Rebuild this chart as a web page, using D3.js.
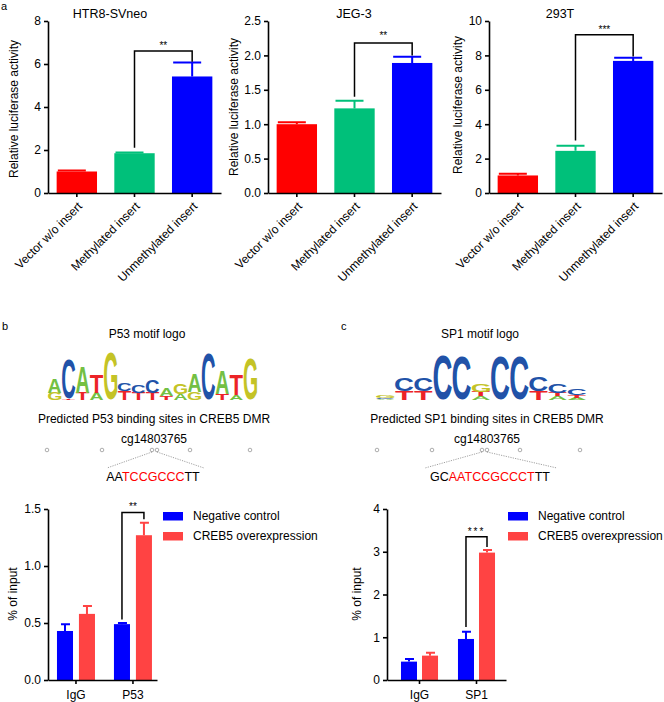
<!DOCTYPE html>
<html>
<head>
<meta charset="utf-8">
<script src="https://cdn.jsdelivr.net/npm/d3@7"></script>
<style>
  body { margin: 0; background: #fff; }
  svg { display: block; font-family: "Liberation Sans", Arial, sans-serif; }
</style>
</head>
<body>
<svg width="664" height="702"></svg>
<script>
// ---------------------------------------------------------------------------
// data
// ---------------------------------------------------------------------------
const lucCategories = ["Vector w/o insert", "Methylated insert", "Unmethylated insert"];
const lucColors = ["#ff0000", "#00c07a", "#0000ff"];

const htr8Mean = [1.0, 1.85, 5.42];
const htr8Sem = [0.05, 0.03, 0.65];
const jeg3Mean = [1.0, 1.23, 1.89];
const jeg3Sem = [0.03, 0.11, 0.09];
const t293Mean = [1.02, 2.45, 7.68];
const t293Sem = [0.1, 0.3, 0.18];

const chipSeries = ["Negative control", "CREB5 overexpression"];
const chipColors = ["#0000ff", "#ff4343"];
const p53Groups = ["IgG", "P53"];
const p53NegMean = [0.43, 0.49];
const p53NegSem = [0.06, 0.01];
const p53CrebMean = [0.58, 1.27];
const p53CrebSem = [0.07, 0.11];
const sp1Groups = ["IgG", "SP1"];
const sp1NegMean = [0.43, 0.96];
const sp1NegSem = [0.06, 0.17];
const sp1CrebMean = [0.57, 2.98];
const sp1CrebSem = [0.07, 0.06];

// motif logos, letters per position from bottom to top, height in bits
const p53Logo = [
  [["G", .3], ["A", .6]],
  [["T", .05], ["C", 1.65]],
  [["T", .3], ["A", 1.05]],
  [["A", .3], ["T", .75]],
  [["G", 1.95]],
  [["T", .35], ["C", .35]],
  [["T", .3], ["C", .35]],
  [["T", .3], ["C", .55]],
  [["T", .15], ["A", .3]],
  [["A", .25], ["G", .45]],
  [["G", .35], ["A", .75]],
  [["C", 1.9]],
  [["T", .25], ["A", .95]],
  [["A", .2], ["T", .85]],
  [["G", 1.7]]
];
const sp1Logo = [
  [["A", .05], ["C", .05], ["G", .08]],
  [["T", .35], ["C", .55]],
  [["T", .35], ["C", .55]],
  [["C", 1.85]],
  [["C", 1.8]],
  [["A", .15], ["T", .2], ["G", .3]],
  [["C", 1.8]],
  [["C", 1.8]],
  [["T", .35], ["C", .6]],
  [["A", .15], ["T", .15], ["C", .4]],
  [["A", .1], ["T", .1], ["C", .25]]
];
const logoColors = { A: "#74c043", C: "#2152a8", G: "#c4c326", T: "#ec2327" };

const cpgSite = "cg14803765";
const p53Seq = [["AA", "#000"], ["TCCGCCC", "#ff0000"], ["TT", "#000"]];
const sp1Seq = [["GC", "#000"], ["AATCCGCCCT", "#ff0000"], ["TT", "#000"]];

// ---------------------------------------------------------------------------
const svg = d3.select("svg");
const font = "'Liberation Sans', Arial, sans-serif";

function styleAxis(sel) {
  sel.attr("font-size", 12).attr("font-family", font);
  sel.select(".domain").attr("stroke-width", 1.6);
  sel.selectAll(".tick line").attr("stroke-width", 1.6);
  sel.selectAll(".tick text").attr("fill", "#000");
}

function bracket(g, x1, x2, yl, yt, yr, stars, sy, spacing) {
  g.append("path")
    .attr("d", `M${x1},${yl}V${yt}H${x2}V${yr}`)
    .attr("fill", "none").attr("stroke", "#000").attr("stroke-width", 1.5);
  g.append("text")
    .attr("x", (x1 + x2) / 2).attr("y", sy)
    .attr("text-anchor", "middle").attr("font-size", 10)
    .attr("letter-spacing", spacing || 0)
    .text(stars);
}

// ===========================================================================
// PANEL a : luciferase
// ===========================================================================
const panelsA = [
  { title: "HTR8-SVneo", titleX: 110, mean: htr8Mean, sem: htr8Sem, max: 8, ticks: [0, 2, 4, 6, 8],
    fmt: d3.format("d"), x0: 48, label: [18, 109], br: [2.1, 6.6, 6.1], stars: "**", starsY: 49 },
  { title: "JEG-3", titleX: 354, mean: jeg3Mean, sem: jeg3Sem, max: 2.5, ticks: [0, 0.5, 1, 1.5, 2, 2.5],
    fmt: d3.format(".1f"), x0: 268, label: [238, 107], br: [1.4, 2.18, 2.0], stars: "**", starsY: 39 },
  { title: "293T", titleX: 560, mean: t293Mean, sem: t293Sem, max: 10, ticks: [0, 2, 4, 6, 8, 10],
    fmt: d3.format("d"), x0: 489, label: [462, 105], br: [3.05, 9.2, 7.93], stars: "***", starsY: 33 }
];

panelsA.forEach((p) => {
  const g = svg.append("g");
  const x = d3.scaleBand().domain(lucCategories).range([p.x0, p.x0 + 173])
    .paddingInner(0.3).paddingOuter(0.15);
  const y = d3.scaleLinear().domain([0, p.max]).range([193, 21]);

  // bars
  g.selectAll(".bar").data(p.mean).enter().append("rect")
    .attr("x", (d, i) => x(lucCategories[i]))
    .attr("y", (d) => y(d))
    .attr("width", x.bandwidth())
    .attr("height", (d) => y(0) - y(d))
    .attr("fill", (d, i) => lucColors[i]);

  // error bars
  p.mean.forEach((d, i) => {
    const cx = x(lucCategories[i]) + x.bandwidth() / 2;
    const top = y(d + p.sem[i]);
    g.append("path")
      .attr("d", `M${cx},${y(d)}V${top}M${cx - 19},${top}H${cx + 9}`)
      .attr("stroke", lucColors[i]).attr("stroke-width", 2).attr("fill", "none");
  });

  // axes
  g.append("g").attr("transform", `translate(${p.x0},0)`)
    .call(d3.axisLeft(y).tickValues(p.ticks).tickFormat(p.fmt).tickSize(4).tickSizeOuter(0))
    .call(styleAxis);

  const xa = g.append("g").attr("transform", "translate(0,193)")
    .call(d3.axisBottom(x).tickSize(4).tickSizeOuter(0))
    .call(styleAxis);
  xa.selectAll(".tick text")
    .attr("y", 0).attr("dy", 0)
    .attr("transform", "translate(6,14) rotate(-45)")
    .attr("text-anchor", "end");

  // title and y label
  g.append("text").attr("x", p.titleX).attr("y", 18).attr("text-anchor", "middle")
    .attr("font-size", 12.5).text(p.title);
  g.append("text").attr("transform", `translate(${p.label[0]},${p.label[1]}) rotate(-90)`)
    .attr("text-anchor", "middle").attr("font-size", 12).text("Relative luciferase activity");

  // significance
  const xl = x(lucCategories[1]) + x.bandwidth() / 2;
  const xr = x(lucCategories[2]) + x.bandwidth() / 2;
  bracket(g, xl, xr, y(p.br[0]), y(p.br[1]), y(p.br[2]), p.stars, p.starsY);
});

svg.append("text").attr("x", 1).attr("y", 10).attr("font-size", 11).text("a");
svg.append("text").attr("x", 2).attr("y", 330).attr("font-size", 11).text("b");
svg.append("text").attr("x", 341).attr("y", 330).attr("font-size", 11).text("c");

// ===========================================================================
// MOTIF LOGOS
// ===========================================================================
const ctx = document.createElement("canvas").getContext("2d");
ctx.font = "bold 100px 'Liberation Sans'";

function drawLogo(data, x0, x1, base) {
  const g = svg.append("g");
  const pos = d3.scaleBand().domain(d3.range(data.length)).range([x0, x1]).paddingInner(0.05);
  const bits = d3.scaleLinear().domain([0, 2]).range([0, 48]);
  data.forEach((stack, i) => {
    let yb = base;
    stack.forEach(([letter, h]) => {
      const m = ctx.measureText(letter);
      const inkW = m.actualBoundingBoxLeft + m.actualBoundingBoxRight;
      const inkH = m.actualBoundingBoxAscent + m.actualBoundingBoxDescent;
      const hp = bits(h);
      g.append("text")
        .attr("transform", `translate(${pos(i)},${yb}) scale(${pos.bandwidth() / inkW},${hp / inkH})`)
        .attr("x", m.actualBoundingBoxLeft)
        .attr("y", -m.actualBoundingBoxDescent)
        .attr("font-size", 100).attr("font-weight", "bold").attr("font-family", font)
        .attr("fill", logoColors[letter])
        .text(letter);
      yb -= hp;
    });
  });
}

function drawSite(cfg) {
  const g = svg.append("g").attr("font-size", 12);
  g.append("text").attr("x", cfg.titleX).attr("y", 338).attr("text-anchor", "middle").text(cfg.title);
  drawLogo(cfg.logo, cfg.logoRange[0], cfg.logoRange[1], 400);
  g.append("text").attr("x", cfg.centerX).attr("y", 423).attr("text-anchor", "middle").text(cfg.predicted);
  g.append("text").attr("x", cfg.centerX).attr("y", 443).attr("text-anchor", "middle").text(cpgSite);
  g.selectAll("circle").data(cfg.circles).enter().append("circle")
    .attr("cx", (d) => d).attr("cy", 450).attr("r", 1.8)
    .attr("fill", "#fff").attr("stroke", "#777").attr("stroke-width", 0.6);
  g.append("path")
    .attr("d", `M${cfg.circles[2]},452L${cfg.lines[0]},468M${cfg.circles[3]},452L${cfg.lines[1]},468`)
    .attr("stroke", "#777").attr("stroke-width", 0.7).attr("stroke-dasharray", "1.2,1.2").attr("fill", "none");
  const t = g.append("text").attr("x", cfg.seqX).attr("y", 481).attr("text-anchor", "middle").attr("font-size", 12.5);
  cfg.seq.forEach(([s, c]) => t.append("tspan").attr("fill", c).text(s));
}

drawSite({
  title: "P53 motif logo", titleX: 147, logo: p53Logo, logoRange: [48, 257],
  predicted: "Predicted P53 binding sites in CREB5 DMR", centerX: 154,
  circles: [47, 102, 152, 157, 190, 250], lines: [107, 204], seq: p53Seq, seqX: 153
});
drawSite({
  title: "SP1 motif logo", titleX: 480, logo: sp1Logo, logoRange: [376, 586],
  predicted: "Predicted SP1 binding sites in CREB5 DMR", centerX: 487,
  circles: [377, 432, 482, 487, 520, 580], lines: [425, 557], seq: sp1Seq, seqX: 490
});

// ===========================================================================
// ChIP bar charts
// ===========================================================================
const panelsB = [
  { groups: p53Groups, neg: p53NegMean, negSem: p53NegSem, creb: p53CrebMean, crebSem: p53CrebSem,
    max: 1.5, ticks: [0, 0.5, 1, 1.5], fmt: d3.format(".1f"), x0: 48, x1: 157,
    pad: [0.333, 0.123, 0.64, 0.27], label: [17, 594], br: [0.53, 1.47, 1.41], stars: "**", starsY: 510,
    spacing: 0, legendX: 163 },
  { groups: sp1Groups, neg: sp1NegMean, negSem: sp1NegSem, creb: sp1CrebMean, crebSem: sp1CrebSem,
    max: 4, ticks: [0, 1, 2, 3, 4], fmt: d3.format("d"), x0: 387, x1: 506,
    pad: [0.35, 0.219, 0.56, 0.238], label: [361, 594], br: [1.24, 3.35, 3.11], stars: "***", starsY: 535,
    spacing: 2, legendX: 508 }
];

panelsB.forEach((p) => {
  const g = svg.append("g");
  const x = d3.scaleBand().domain(p.groups).range([p.x0, p.x1])
    .paddingInner(p.pad[0]).paddingOuter(p.pad[1]).align(p.pad[2]);
  const xs = d3.scaleBand().domain(chipSeries).range([0, x.bandwidth()]).paddingInner(p.pad[3]);
  const y = d3.scaleLinear().domain([0, p.max]).range([680, 509]);

  const series = [[p.neg, p.negSem], [p.creb, p.crebSem]];
  series.forEach(([vals, sems], si) => {
    vals.forEach((d, gi) => {
      const bx = x(p.groups[gi]) + xs(chipSeries[si]);
      const cx = bx + xs.bandwidth() / 2;
      g.append("rect")
        .attr("x", bx).attr("y", y(d))
        .attr("width", xs.bandwidth()).attr("height", y(0) - y(d))
        .attr("fill", chipColors[si]);
      const top = y(d + sems[gi]);
      g.append("path")
        .attr("d", `M${cx},${y(d)}V${top}M${cx - 4},${top}H${cx + 5}`)
        .attr("stroke", chipColors[si]).attr("stroke-width", 2).attr("fill", "none");
    });
  });

  g.append("g").attr("transform", `translate(${p.x0},0)`)
    .call(d3.axisLeft(y).tickValues(p.ticks).tickFormat(p.fmt).tickSize(4).tickSizeOuter(0))
    .call(styleAxis);
  const xa = g.append("g").attr("transform", "translate(0,680)")
    .call(d3.axisBottom(x).tickSize(4).tickSizeOuter(0))
    .call(styleAxis);
  xa.selectAll(".tick text").attr("y", 8).attr("dy", "0.9em");

  g.append("text").attr("transform", `translate(${p.label[0]},${p.label[1]}) rotate(-90)`)
    .attr("text-anchor", "middle").attr("font-size", 12).text("% of input");

  // significance on second group
  const xl = x(p.groups[1]) + xs(chipSeries[0]) + xs.bandwidth() / 2;
  const xr = x(p.groups[1]) + xs(chipSeries[1]) + xs.bandwidth() / 2;
  bracket(g, xl, xr, y(p.br[0]), y(p.br[1]), y(p.br[2]), p.stars, p.starsY, p.spacing);

  // legend
  const lg = g.append("g").attr("transform", `translate(${p.legendX},512)`);
  chipSeries.forEach((s, i) => {
    lg.append("rect").attr("x", 0).attr("y", i * 20).attr("width", 20).attr("height", 8.5)
      .attr("fill", chipColors[i]);
    lg.append("text").attr("x", 30).attr("y", i * 20 + 4.25).attr("dy", "0.35em")
      .attr("font-size", 12).text(s);
  });
});
</script>
</body>
</html>
